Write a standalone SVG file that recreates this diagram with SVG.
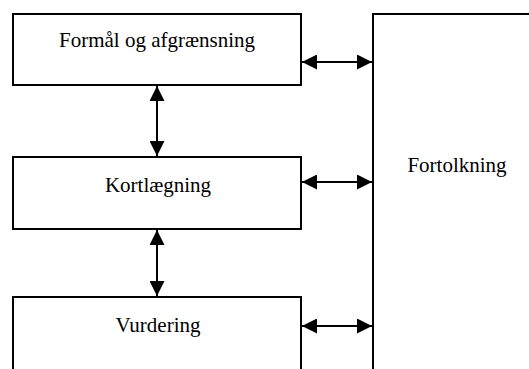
<svg xmlns="http://www.w3.org/2000/svg" width="529" height="369" viewBox="0 0 529 369">
  <style>
    .box { fill: #ffffff; stroke: #000000; stroke-width: 2; }
    .lbl { font-family: "Liberation Serif", "DejaVu Serif", serif; font-size: 21px; fill: #000000; text-anchor: middle; }
    .link { stroke: #000000; stroke-width: 2; fill: none; marker-start: url(#head); marker-end: url(#head); }
  </style>
  <defs>
    <marker id="head" viewBox="0 0 15 15" refX="15" refY="7.5" markerWidth="15" markerHeight="15" markerUnits="userSpaceOnUse" orient="auto-start-reverse">
      <path d="M0,0 L15,7.5 L0,15 Z" fill="#000000"/>
    </marker>
  </defs>
  <rect width="529" height="369" fill="#ffffff"/>

  <g id="formaal">
    <rect class="box" x="13" y="14" width="288" height="71"/>
    <text class="lbl" x="157" y="47">Formål og afgrænsning</text>
  </g>
  <g id="kortlaegning">
    <rect class="box" x="13" y="157" width="288" height="72"/>
    <text class="lbl" x="158" y="192">Kortlægning</text>
  </g>
  <g id="vurdering">
    <rect class="box" x="13" y="297" width="288" height="90"/>
    <text class="lbl" x="158" y="332">Vurdering</text>
  </g>
  <g id="fortolkning">
    <rect class="box" x="373" y="14" width="180" height="380"/>
    <text class="lbl" x="457" y="172">Fortolkning</text>
  </g>

  <g id="connectors">
    <line class="link" x1="157" y1="86" x2="157" y2="156"/>
    <line class="link" x1="157" y1="230" x2="157" y2="296"/>
    <line class="link" x1="302" y1="62" x2="372" y2="62"/>
    <line class="link" x1="302" y1="182" x2="372" y2="182"/>
    <line class="link" x1="302" y1="326" x2="372" y2="326"/>
  </g>
</svg>
